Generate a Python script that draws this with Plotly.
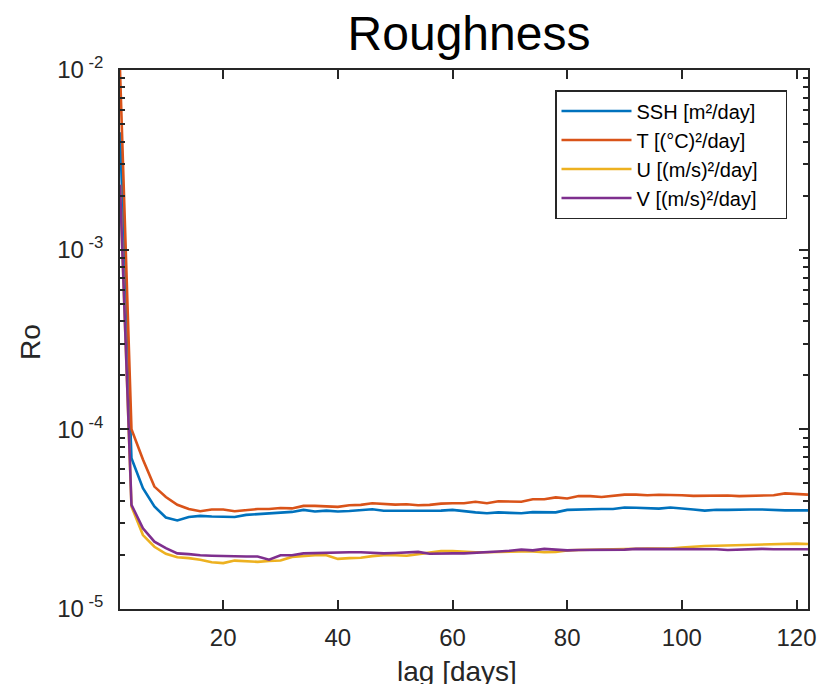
import plotly.graph_objects as go

lag = list(range(2, 124, 2))

ssh = [4.5e-3, 6.9e-5, 4.7e-5, 3.72e-5, 3.23e-5, 3.11e-5, 3.25e-5, 3.3e-5, 3.27e-5, 3.27e-5,
       3.25e-5, 3.34e-5, 3.38e-5, 3.41e-5, 3.45e-5, 3.47e-5, 3.56e-5, 3.49e-5, 3.53e-5, 3.49e-5,
       3.51e-5, 3.56e-5, 3.59e-5, 3.52e-5, 3.52e-5, 3.51e-5, 3.51e-5, 3.52e-5, 3.53e-5, 3.56e-5,
       3.49e-5, 3.45e-5, 3.41e-5, 3.45e-5, 3.43e-5, 3.41e-5, 3.46e-5, 3.46e-5, 3.45e-5, 3.56e-5,
       3.58e-5, 3.6e-5, 3.6e-5, 3.6e-5, 3.67e-5, 3.66e-5, 3.64e-5, 3.62e-5, 3.67e-5, 3.64e-5,
       3.58e-5, 3.53e-5, 3.57e-5, 3.56e-5, 3.58e-5, 3.58e-5, 3.58e-5, 3.55e-5, 3.54e-5, 3.54e-5,
       3.54e-5]

temp = [1.0e-2, 1.0e-4, 6.8e-5, 4.8e-5, 4.2e-5, 3.8e-5, 3.6e-5, 3.5e-5, 3.58e-5, 3.58e-5,
        3.5e-5, 3.55e-5, 3.6e-5, 3.6e-5, 3.65e-5, 3.63e-5, 3.75e-5, 3.75e-5, 3.72e-5, 3.7e-5,
        3.78e-5, 3.8e-5, 3.88e-5, 3.85e-5, 3.81e-5, 3.83e-5, 3.78e-5, 3.8e-5, 3.86e-5, 3.88e-5,
        3.88e-5, 3.95e-5, 3.88e-5, 3.98e-5, 3.98e-5, 3.95e-5, 4.08e-5, 4.08e-5, 4.18e-5, 4.12e-5,
        4.25e-5, 4.25e-5, 4.2e-5, 4.28e-5, 4.33e-5, 4.33e-5, 4.3e-5, 4.32e-5, 4.33e-5, 4.3e-5,
        4.26e-5, 4.27e-5, 4.26e-5, 4.28e-5, 4.25e-5, 4.28e-5, 4.3e-5, 4.3e-5, 4.4e-5, 4.38e-5,
        4.33e-5]

u = [2.3e-3, 3.72e-5, 2.58e-5, 2.22e-5, 2.03e-5, 1.94e-5, 1.92e-5, 1.88e-5, 1.82e-5, 1.8e-5,
     1.86e-5, 1.85e-5, 1.83e-5, 1.85e-5, 1.86e-5, 1.95e-5, 1.97e-5, 1.99e-5, 1.99e-5, 1.9e-5,
     1.92e-5, 1.93e-5, 1.97e-5, 1.99e-5, 1.99e-5, 1.98e-5, 2.02e-5, 2.06e-5, 2.1e-5, 2.1e-5,
     2.08e-5, 2.07e-5, 2.07e-5, 2.08e-5, 2.08e-5, 2.09e-5, 2.09e-5, 2.07e-5, 2.08e-5, 2.12e-5,
     2.13e-5, 2.14e-5, 2.15e-5, 2.16e-5, 2.17e-5, 2.17e-5, 2.17e-5, 2.17e-5, 2.17e-5, 2.2e-5,
     2.23e-5, 2.24e-5, 2.25e-5, 2.26e-5, 2.26e-5, 2.27e-5, 2.3e-5, 2.3e-5, 2.3e-5, 2.31e-5,
     2.3e-5]

v = [2.3e-3, 3.8e-5, 2.81e-5, 2.37e-5, 2.18e-5, 2.04e-5, 2.02e-5, 1.99e-5, 1.98e-5, 1.97e-5,
     1.97e-5, 1.96e-5, 1.96e-5, 1.88e-5, 1.99e-5, 1.99e-5, 2.04e-5, 2.05e-5, 2.05e-5, 2.06e-5,
     2.07e-5, 2.07e-5, 2.06e-5, 2.04e-5, 2.05e-5, 2.07e-5, 2.08e-5, 2.03e-5, 2.04e-5, 2.04e-5,
     2.04e-5, 2.05e-5, 2.07e-5, 2.09e-5, 2.11e-5, 2.14e-5, 2.12e-5, 2.16e-5, 2.14e-5, 2.12e-5,
     2.13e-5, 2.13e-5, 2.14e-5, 2.15e-5, 2.14e-5, 2.16e-5, 2.16e-5, 2.16e-5, 2.17e-5, 2.17e-5,
     2.16e-5, 2.16e-5, 2.15e-5, 2.13e-5, 2.14e-5, 2.17e-5, 2.16e-5, 2.15e-5, 2.15e-5, 2.15e-5,
     2.15e-5]

names = ["SSH [m²/day]", "T [(°C)²/day]", "U [(m/s)²/day]", "V [(m/s)²/day]"]
colors = ["#0072BD", "#D95319", "#EDB120", "#7E2F8E"]
series = [ssh, temp, u, v]

x_ticks = [20, 40, 60, 80, 100, 120]
y_ticks = [1e-5, 1e-4, 1e-3, 1e-2]
y_ticktext = ["10<sup> -5</sup>", "10<sup> -4</sup>", "10<sup> -3</sup>", "10<sup> -2</sup>"]
y_minor = [m * 10.0 ** e for e in (-5, -4, -3) for m in range(2, 10)]

fig = go.Figure()
pad = "\u00a0" * 4
for name, col, ys in zip(names, colors, series):
    fig.add_trace(go.Scatter(x=lag, y=ys, mode="lines", name=name + pad,
                             line=dict(color=col, width=2.6)))

axcol = "#262626"
font = "Liberation Sans, Arial, Helvetica, sans-serif"
W, H = 822, 684
L, R, T, B = 120, 14, 70, 75
PW, PH = W - L - R, H - T - B
fig.update_layout(
    width=W, height=H,
    margin=dict(l=L, r=R, t=T, b=B, autoexpand=False),
    paper_bgcolor="white", plot_bgcolor="white",
    font=dict(family=font, color="#262626", size=24),
    title=dict(text="Roughness", xref="paper", x=(469 - L) / PW, xanchor="center",
               yref="container", y=1 - 33 / H, yanchor="middle",
               font=dict(size=48, color="black")),
    legend=dict(x=(787 - L) / PW, y=1 - (90 - T) / PH, xanchor="right", yanchor="top",
                bgcolor="white", bordercolor=axcol, borderwidth=1.5,
                font=dict(size=20, color="black"), tracegroupgap=0,
                itemwidth=70),
    showlegend=True,
    annotations=[
        dict(text="lag [days]", xref="paper", yref="paper",
             x=(457 - L) / PW, y=-(671 - (T + PH)) / PH, xanchor="center", yanchor="middle",
             showarrow=False, font=dict(size=28, color="#262626")),
        dict(text="Ro", xref="paper", yref="paper", textangle=-90,
             x=-(L - 30) / PW, y=(T + PH - 342) / PH, xanchor="center", yanchor="middle",
             showarrow=False, font=dict(size=28, color="#262626")),
    ],
)
fig.update_xaxes(
    range=[2, 122], tickvals=x_ticks, ticks="inside", ticklen=9, tickwidth=1.5,
    tickcolor=axcol, showline=True, linecolor=axcol, linewidth=1.5, mirror="ticks",
    showgrid=False, zeroline=False, tickfont=dict(size=24, color="#262626"),
    ticklabelstandoff=6, automargin=False,
)
fig.update_yaxes(
    type="log", range=[-5, -2], tickvals=y_ticks, ticktext=y_ticktext,
    ticks="inside", ticklen=9, tickwidth=1.5, tickcolor=axcol,
    showline=True, linecolor=axcol, linewidth=1.5, mirror="ticks",
    showgrid=False, zeroline=False, tickfont=dict(size=24, color="#262626"),
    ticklabelstandoff=10, automargin=False,
    minor=dict(tickvals=y_minor, ticks="inside", ticklen=5, tickcolor=axcol, showgrid=False),
)
fig.write_html(
    "out.html",
    config={"displayModeBar": False},
    post_script="document.body.style.margin='0';document.body.style.overflow='hidden';",
)
